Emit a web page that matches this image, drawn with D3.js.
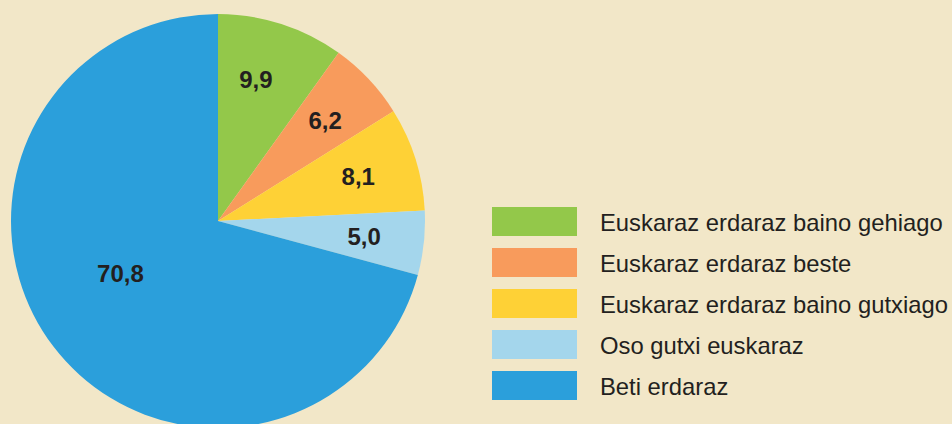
<!DOCTYPE html>
<html><head><meta charset="utf-8">
<script src="https://cdn.jsdelivr.net/npm/d3@7"></script>
<style>html,body{margin:0;padding:0;background:#f2e7c8;}svg{display:block;}</style>
</head><body>
<svg id="c" width="952" height="424"></svg>
<script>
const categories = ["Euskaraz erdaraz baino gehiago","Euskaraz erdaraz beste","Euskaraz erdaraz baino gutxiago","Oso gutxi euskaraz","Beti erdaraz"];
const values = [9.9, 6.2, 8.1, 5.0, 70.8];
const labels = ["9,9","6,2","8,1","5,0","70,8"];
const colors = ["#93c84a","#f89b5c","#fed136","#a4d6ec","#2b9fdb"];

const svg = d3.select("#c");
svg.append("rect").attr("width",952).attr("height",424).attr("fill","#f2e7c8");
const cx = 218, cy = 221, R = 207;
const g = svg.append("g").attr("transform",`translate(${cx},${cy})`);
const pie = d3.pie().sort(null).value(d=>d);
const arcs = pie(values);
const arc = d3.arc().innerRadius(0).outerRadius(R);
g.selectAll("path").data(arcs).enter().append("path")
  .attr("d",arc).attr("fill",(d,i)=>colors[i]);

const labelArc = d3.arc().innerRadius(148).outerRadius(148);
g.selectAll("text.lbl").data(arcs).enter().append("text")
  .attr("class","lbl")
  .attr("transform",(d,i)=>{
    let p;
    if (d.value > 50) {
      const a = (d.startAngle + d.endAngle)/2 + 0.157;
      p = [111*Math.sin(a), -111*Math.cos(a)];
    } else {
      const a = (d.startAngle + d.endAngle)/2 - (i === 0 ? 0.05 : 0);
      p = [147*Math.sin(a), -147*Math.cos(a)];
    }
    return `translate(${p[0]},${p[1]+8.6})`;
  })
  .attr("text-anchor","middle")
  .attr("font-family","'Liberation Sans', Arial, sans-serif")
  .attr("font-weight","bold").attr("font-size",24)
  .attr("fill","#231f20")
  .text((d,i)=>labels[i]);

const y = d3.scaleBand().domain(categories).range([207,400]).paddingInner(12/41).paddingOuter(0);
const leg = svg.append("g");
const rows = leg.selectAll("g").data(categories).enter().append("g")
  .attr("transform",d=>`translate(0,${y(d)})`);
rows.append("rect").attr("x",492).attr("width",85).attr("height",y.bandwidth()).attr("fill",(d,i)=>colors[i]);
rows.append("text").attr("x",600).attr("y",23.5)
  .attr("font-family","'Liberation Sans', Arial, sans-serif")
  .attr("font-size",23.8).attr("fill","#231f20").text(d=>d);
</script>
</body></html>
